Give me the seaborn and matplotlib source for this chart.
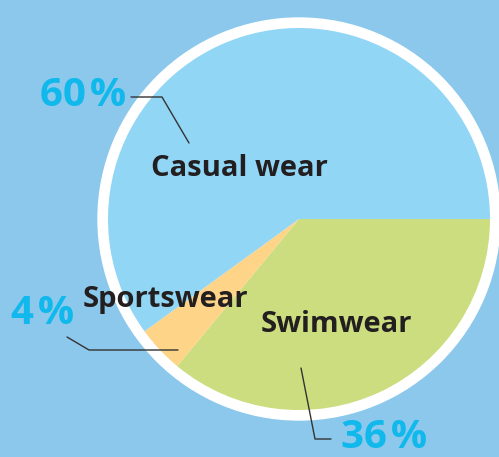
import matplotlib.pyplot as plt
import seaborn as sns
from matplotlib.patches import Circle

# data
labels = ["Swimwear", "Sportswear", "Casual wear"]
shares = [36, 4, 60]
colors = ["#CBDD7E", "#FDD488", "#91D6F5"]

sns.set_theme(style="white")
plt.rcParams['font.family'] = ['Open Sans', 'DejaVu Sans']

W, H = 499, 457
fig = plt.figure(figsize=(W / 100, H / 100), dpi=100)
fig.patch.set_facecolor("#8BC8EB")
ax = fig.add_axes([0, 0, 1, 1])

cx, cy = 299, H - 219

# white ring behind the pie
ax.add_patch(Circle((cx, cy), 201, color="white", zorder=1))
ax.pie(shares, colors=colors, startangle=0, counterclock=False,
       center=(cx, cy), radius=191, frame=True,
       wedgeprops=dict(linewidth=0, zorder=2))
ax.set_xlim(0, W)
ax.set_ylim(0, H)
ax.set_aspect("equal")
ax.axis("off")

# category labels
lab_pos = {"Casual wear": (239, 169), "Sportswear": (165, 299), "Swimwear": (336, 324)}
for name in labels:
    x, y = lab_pos[name]
    ax.text(x, H - y, name, ha="center", va="center", fontsize=21,
            fontweight="bold", color="#231F20", zorder=5)

# percent labels and leader lines
pct_pos = {"Casual wear": (83, 96), "Sportswear": (43, 313), "Swimwear": (384, 438)}
lines = {
    "Casual wear": [(131, 97), (162, 97), (189, 143)],
    "Sportswear": [(67, 337), (89, 350), (178, 350)],
    "Swimwear": [(301, 368), (315, 439), (331, 439)],
}
for name, val in zip(labels, shares):
    x, y = pct_pos[name]
    ax.text(x, H - y, f"{val}\u200a%", ha="center", va="center", fontsize=29,
            fontweight="bold", color="#10B8EC", zorder=5)
    xs = [p[0] for p in lines[name]]
    ys = [H - p[1] for p in lines[name]]
    ax.plot(xs, ys, color="#333333", lw=1, zorder=4)

fig.savefig("out.png", dpi=100, facecolor=fig.get_facecolor())
